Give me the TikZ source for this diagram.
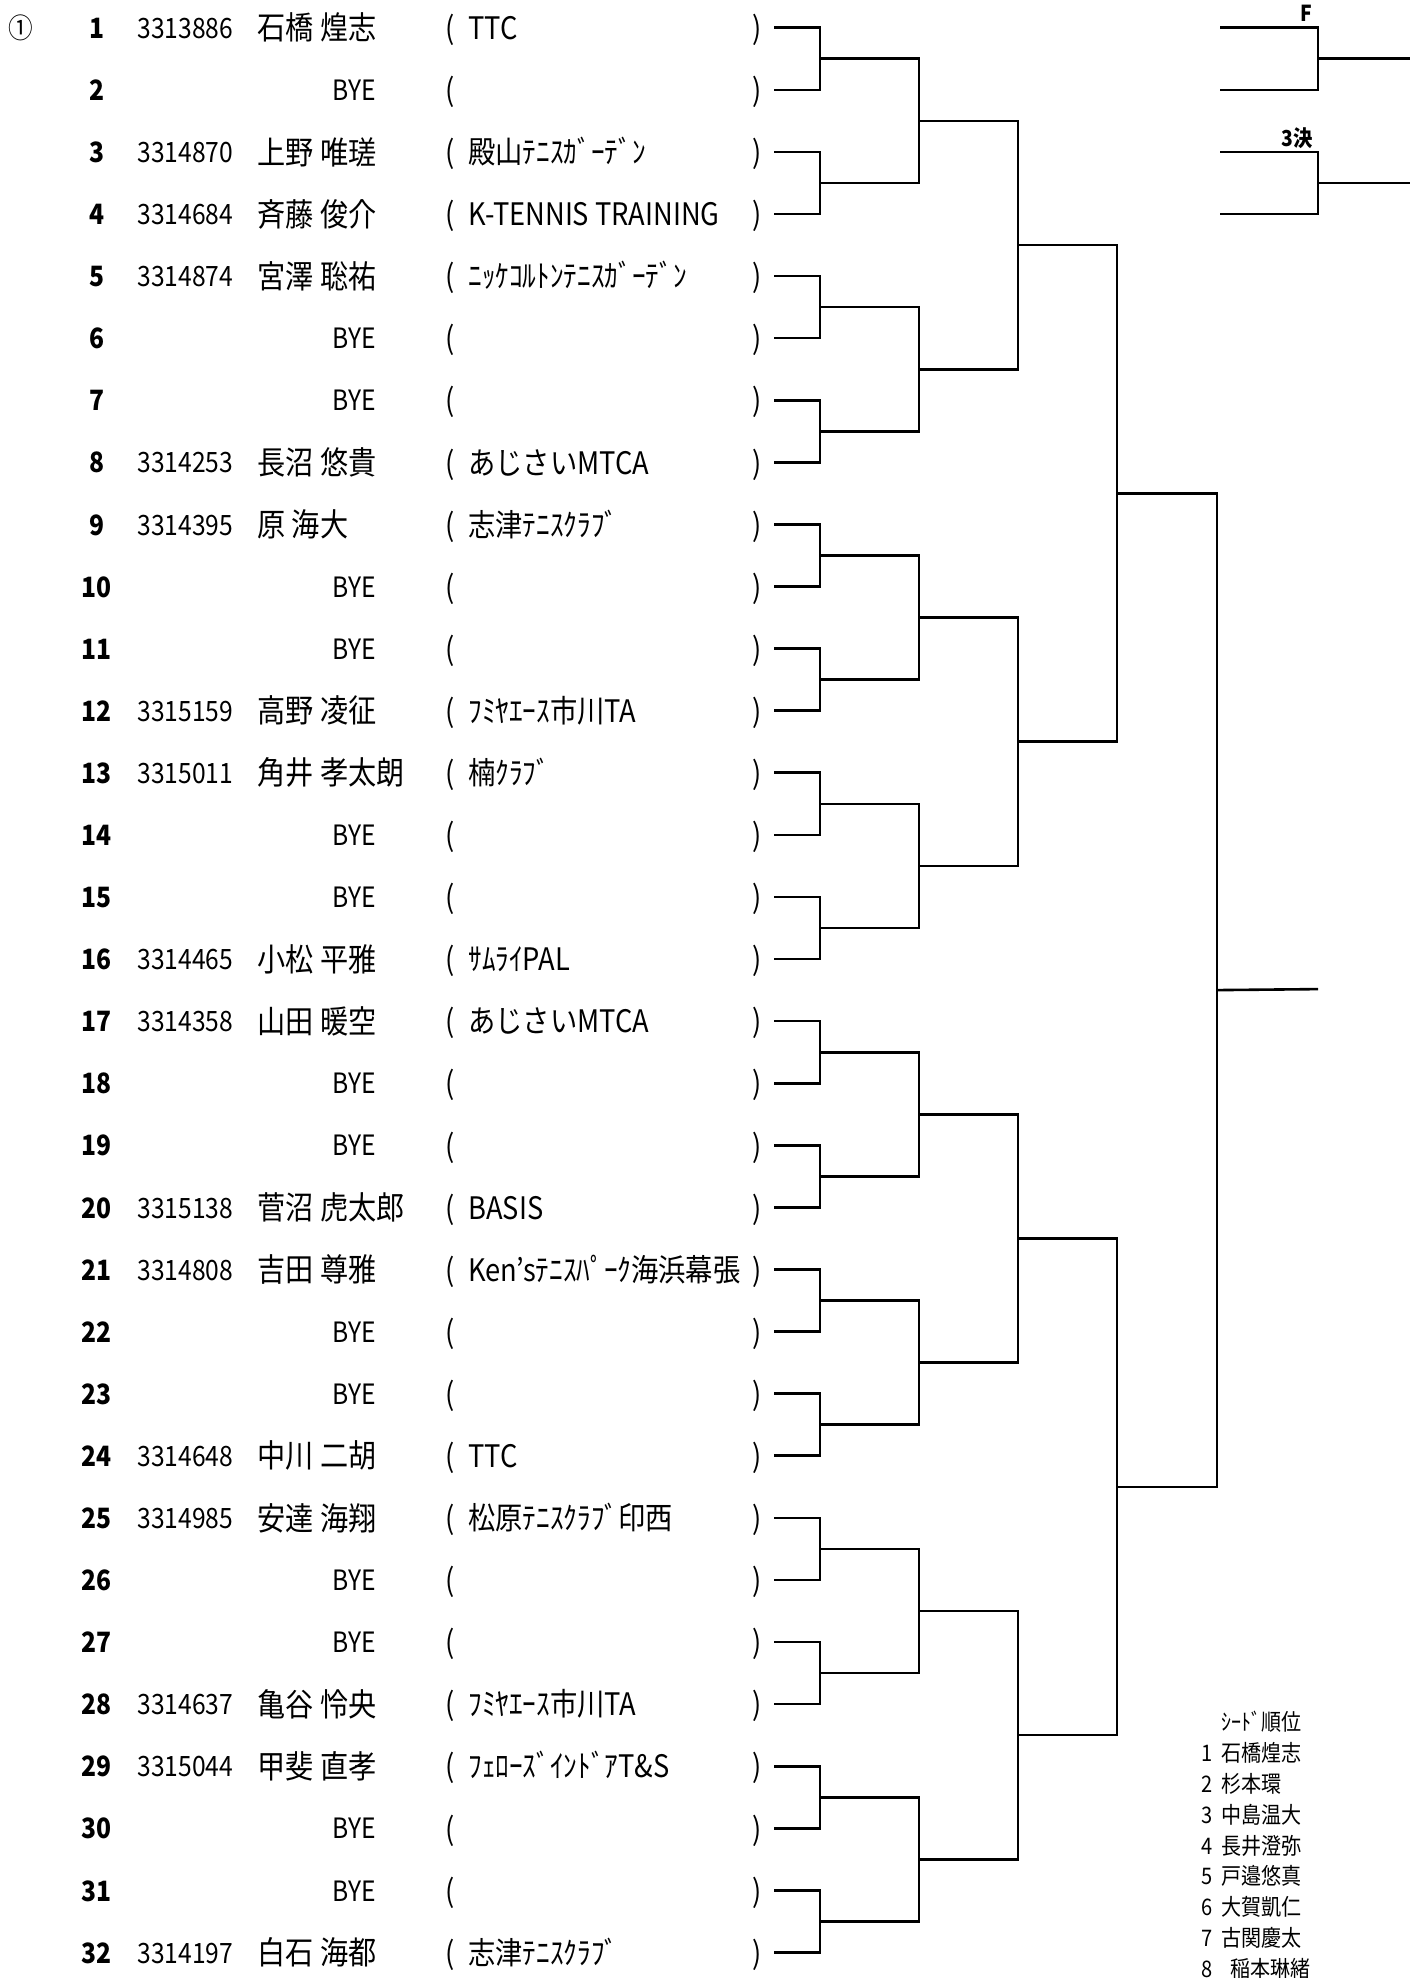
\documentclass[tikz,border=0pt]{standalone}
\usepackage{fontspec}
\setmainfont{Noto Sans CJK JP}[FakeStretch=0.88]
\usepackage{tikz}
\usetikzlibrary{calc}

\tikzset{
  entry/.style={inner sep=0pt, font=\fontsize{14}{16}\selectfont, text height=12.3pt, text depth=1.7pt},
  entrynum/.style={entry, font=\fontsize{14}{16}\selectfont\bfseries},
  entryname/.style={inner sep=0pt, anchor=west, font=\fontsize{16}{18}\selectfont, text height=14.1pt, text depth=1.9pt},
  entryclub/.style={inner sep=0pt, anchor=west, font=\fontsize{15.5}{18}\selectfont, text height=13.6pt, text depth=1.9pt},
  seedtext/.style={inner sep=0pt, font=\fontsize{11.4}{13}\selectfont, text height=10pt, text depth=1.4pt},
  roundlabel/.style={inner sep=0pt, anchor=base east, font=\fontsize{11}{12}\selectfont\bfseries},
  bline/.style={line width=1.3pt},
}

\begin{document}
\begin{tikzpicture}[x=0.5pt, y=-0.5pt]
  \useasboundingbox (0,0) rectangle (1410,1978);

  % seed mark
  \node[entry] (seedmark) at (21,28) {①};

  % draw numbers and brackets ( )
  \foreach \n in {1,...,32} {
    \pgfmathsetmacro{\ry}{27.7+(\n-1)*62.09}
    \node[entrynum] (no\n) at (97,\ry) {\n};
    \node[entryclub, anchor=center] (op\n) at (450,\ry) {(};
    \node[entryclub, anchor=center] (cp\n) at (757,\ry) {)};
    \coordinate (w0-\n) at (774,\ry);
  }

  % players
  \foreach \n/\id/\pname/\club in {
      1/3313886/石橋 煌志/TTC,
      3/3314870/上野 唯瑳/殿山ﾃﾆｽｶﾞｰﾃﾞﾝ,
      4/3314684/斉藤 俊介/K-TENNIS TRAINING,
      5/3314874/宮澤 聡祐/ﾆｯｹｺﾙﾄﾝﾃﾆｽｶﾞｰﾃﾞﾝ,
      8/3314253/長沼 悠貴/あじさいMTCA,
      9/3314395/原 海大/志津ﾃﾆｽｸﾗﾌﾞ,
      12/3315159/高野 凌征/ﾌﾐﾔｴｰｽ市川TA,
      13/3315011/角井 孝太朗/楠ｸﾗﾌﾞ,
      16/3314465/小松 平雅/ｻﾑﾗｲPAL,
      17/3314358/山田 暖空/あじさいMTCA,
      20/3315138/菅沼 虎太郎/BASIS,
      21/3314808/吉田 尊雅/Ken'sﾃﾆｽﾊﾟｰｸ海浜幕張,
      24/3314648/中川 二胡/TTC,
      25/3314985/安達 海翔/松原ﾃﾆｽｸﾗﾌﾞ印西,
      28/3314637/亀谷 怜央/ﾌﾐﾔｴｰｽ市川TA,
      29/3315044/甲斐 直孝/ﾌｪﾛｰｽﾞｲﾝﾄﾞｱT\&S,
      32/3314197/白石 海都/志津ﾃﾆｽｸﾗﾌﾞ} {
    \pgfmathsetmacro{\ry}{27.7+(\n-1)*62.09}
    \node[entry, anchor=west] (id\n) at (137,\ry) {\id};
    \node[entryname] (nm\n) at (257,\ry) {\pname};
    \node[entryclub] (cl\n) at (468,\ry) {\club};
  }

  % byes
  \foreach \n in {2,6,7,10,11,14,15,18,19,22,23,26,27,30,31} {
    \pgfmathsetmacro{\ry}{27.7+(\n-1)*62.09}
    \node[entry] (bye\n) at (354,\ry) {BYE};
  }

  % draw rounds
  \foreach \r/\xr/\cnt in {1/820/16, 2/919/8, 3/1018/4, 4/1117/2, 5/1217/1} {
    \pgfmathtruncatemacro{\p}{\r-1}
    \foreach \j in {1,...,\cnt} {
      \pgfmathtruncatemacro{\a}{2*\j-1}
      \pgfmathtruncatemacro{\b}{2*\j}
      \pgfmathsetmacro{\wy}{27.7+((\j-1)*2^\r+(2^\r-1)/2)*62.09}
      \coordinate (w\r-\j) at (\xr,\wy);
      \draw[bline] (w\p-\a) -| (w\r-\j) |- (w\p-\b);
    }
  }
  \coordinate (champ) at (1318,989.1);
  \draw[bline] (w5-1) -- (champ);

  % F
  \coordinate (f1) at (1220,27.7);
  \coordinate (f2) at (1220,89.8);
  \coordinate (fw) at (1318,58.7);
  \coordinate (fout) at (1410,58.7);
  \draw[bline] (f1) -| (fw) |- (f2);
  \draw[bline] (fw) -- (fout);
  \node[roundlabel] (flabel) at (1313,21) {F};

  % 3rd place
  \coordinate (t1) at (1220,151.9);
  \coordinate (t2) at (1220,214.0);
  \coordinate (tw) at (1318,183.0);
  \coordinate (tout) at (1410,183.0);
  \draw[bline] (t1) -| (tw) |- (t2);
  \draw[bline] (tw) -- (tout);
  \node[roundlabel] (tlabel) at (1313,146) {3決};

  % seed order
  \node[seedtext, anchor=west] (seedhead) at (1221,1722) {ｼｰﾄﾞ順位};
  \foreach \k/\sname/\sx in {1/石橋煌志/1221, 2/杉本環/1221, 3/中島温大/1221, 4/長井澄弥/1221,
      5/戸邉悠真/1221, 6/大賀凱仁/1221, 7/古関慶太/1221, 8/稲本琳緒/1230} {
    \pgfmathsetmacro{\sy}{1753+(\k-1)*30.8}
    \node[seedtext] (sno\k) at (1207,\sy) {\k};
    \node[seedtext, anchor=west] (seed\k) at (\sx,\sy) {\sname};
  }
\end{tikzpicture}
\end{document}
